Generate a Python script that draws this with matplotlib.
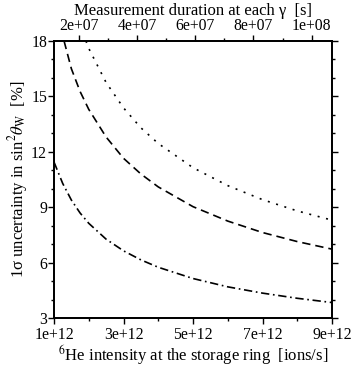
import matplotlib
matplotlib.use("Agg")
import matplotlib.pyplot as plt
from matplotlib.ticker import FixedLocator, MultipleLocator, FuncFormatter

plt.rcParams["font.family"] = ["Liberation Serif", "DejaVu Serif"]
plt.rcParams["mathtext.fontset"] = "stix"

# intensity of 6He at the storage ring [ions/s]
dotted_x = [1.92e12, 2.0e12, 2.5e12, 3.0e12, 3.5e12, 4.0e12, 5.0e12, 6.0e12, 7.0e12, 8.0e12, 9.0e12]
dotted_y = [18.0, 17.6, 15.75, 14.38, 13.3, 12.45, 11.14, 10.17, 9.41, 8.80, 8.30]

dashed_x = [1.29e12, 1.5e12, 1.75e12, 2.0e12, 2.5e12, 3.0e12, 3.5e12, 4.0e12, 5.0e12,
            6.0e12, 7.0e12, 8.0e12, 9.0e12]
dashed_y = [18.0, 16.5, 15.27, 14.3, 12.8, 11.65, 10.8, 10.1, 9.03, 8.25, 7.63, 7.14, 6.73]

dashdot_x = [1.0e12, 1.25e12, 1.5e12, 1.75e12, 2.0e12, 2.5e12, 3.0e12, 3.5e12, 4.0e12,
             5.0e12, 6.0e12, 7.0e12, 8.0e12, 9.0e12]
dashdot_y = [11.45, 10.29, 9.39, 8.69, 8.13, 7.27, 6.64, 6.15, 5.75, 5.14, 4.69, 4.35,
             4.07, 3.84]

bottom_ticks = [1e12, 3e12, 5e12, 7e12, 9e12]
top_ticks = [2e7, 4e7, 6e7, 8e7, 1e8]
left_ticks = [3, 6, 9, 12, 15, 18]

fig = plt.figure(figsize=(3.54, 3.66), dpi=100)
ax = fig.add_axes([0.1525, 0.131, 0.7855, 0.757])

lw = 1.2
ax.plot(dotted_x, dotted_y, color="black", lw=lw, linestyle=(0, (1.2, 4.0)))
ax.plot(dashed_x, dashed_y, color="black", lw=lw, linestyle=(0, (5, 3)))
ax.plot(dashdot_x, dashdot_y, color="black", lw=lw, linestyle=(0, (5, 2.2, 1.0, 2.2)))

ax.set_xlim(1e12, 9e12)
ax.set_ylim(3, 18)
ax.xaxis.set_major_locator(FixedLocator(bottom_ticks))
ax.xaxis.set_minor_locator(MultipleLocator(1e12))
ax.xaxis.set_major_formatter(FuncFormatter(lambda v, p: f"{v:.0e}"))
ax.yaxis.set_major_locator(FixedLocator(left_ticks))
ax.yaxis.set_minor_locator(MultipleLocator(1))
ax.tick_params(which="both", direction="out", right=True, labelright=False,
               labelsize=11.3, width=1.0, pad=1)
ax.tick_params(axis="x", which="major", pad=2.5)
ax.tick_params(which="major", length=4)
ax.tick_params(which="minor", length=2.5)
for s in ax.spines.values():
    s.set_linewidth(1.3)

ax.set_xlabel("$^6$He intensity at the storage ring  [ions/s]", fontsize=12, labelpad=0)
ax.set_ylabel("1σ uncertainty in sin$^2\\theta_{\\mathrm{W}}$  [%]", fontsize=12, labelpad=1)

top = ax.twiny()
top.set_xlim(1.15e7, 1.07e8)
top.xaxis.set_major_locator(FixedLocator(top_ticks))
top.xaxis.set_minor_locator(MultipleLocator(1e7))
top.xaxis.set_major_formatter(FuncFormatter(lambda v, p: f"{v:.0e}"))
top.tick_params(which="both", direction="out", labelsize=11.3, width=1.0, pad=1)
top.tick_params(which="major", length=4)
top.tick_params(which="minor", length=2.5)
for s in top.spines.values():
    s.set_linewidth(1.3)
top.set_xlabel("Measurement duration at each γ  [s]", fontsize=12, labelpad=2)

fig.savefig("out.png", dpi=100)
